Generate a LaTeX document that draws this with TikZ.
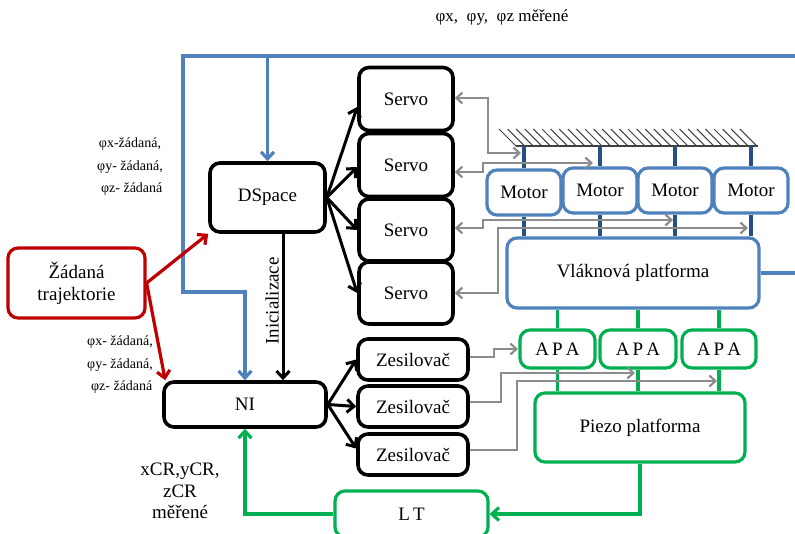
\documentclass[tikz,border=0pt]{standalone}
\usepackage{fontspec}
\setmainfont{Liberation Serif}
\usetikzlibrary{arrows.meta}
\definecolor{ublue}{HTML}{4F81BD}
\definecolor{dblue}{HTML}{254F85}
\definecolor{ured}{HTML}{C00000}
\definecolor{ugreen}{HTML}{00B050}
\definecolor{ugray}{HTML}{8C8C8C}
\begin{document}
\begin{tikzpicture}[x=1pt,y=-1pt,
  box/.style={draw=black, line width=3.6pt, rounded corners=10pt, fill=white, inner sep=0pt,
    font=\fontsize{19}{22}\selectfont, align=center},
  bbox/.style={box, draw=ublue, line width=3.2pt},
  gbox/.style={box, draw=ugreen, line width=3.2pt},
  rbox/.style={box, draw=ured, line width=3.2pt},
  tipb/.style={-{Straight Barb[length=7pt,width=13pt]}},
  blk/.style={tipb, draw=black, line width=3pt},
  blu/.style={tipb, draw=ublue, line width=3.2pt},
  red/.style={tipb, draw=ured, line width=3.2pt},
  grn/.style={draw=ugreen, line width=3.2pt},
  grna/.style={tipb, grn},
  gry/.style={draw=ugray, line width=2.2pt},
  gryone/.style={gry, -{Straight Barb[length=6pt,width=11pt]}},
  grytwo/.style={gry, {Straight Barb[length=6pt,width=11pt]}-{Straight Barb[length=6pt,width=11pt]}},
  mot/.style={draw=dblue, line width=3.2pt},
  hatch/.style={draw=black!75, line width=1pt},
  lbl/.style={inner sep=0pt, align=center},
]
\useasboundingbox (0,0) rectangle (795,533);

% ---- nodes ----
\node[rbox, minimum width=137pt, minimum height=70pt] (zad) at (76.5,283) {Žádaná\\trajektorie};
\node[box, minimum width=115pt, minimum height=69pt] (dsp) at (267.5,197.5) {DSpace};
\node[box, minimum width=162pt, minimum height=45pt] (ni) at (245,404.5) {NI};

\node[box, minimum width=94pt, minimum height=63pt] (s1) at (406,99) {Servo};
\node[box, minimum width=94pt, minimum height=63pt] (s2) at (406,165) {Servo};
\node[box, minimum width=94pt, minimum height=62pt] (s3) at (406,230) {Servo};
\node[box, minimum width=94pt, minimum height=62pt] (s4) at (406,293) {Servo};

\node[box, minimum width=110pt, minimum height=41pt] (z1) at (413,359.5) {Zesilovač};
\node[box, minimum width=110pt, minimum height=41pt] (z2) at (413,406.5) {Zesilovač};
\node[box, minimum width=110pt, minimum height=41pt] (z3) at (413,454.5) {Zesilovač};

\node[bbox, minimum width=74pt, minimum height=45pt] (m1) at (524,192.5) {Motor};
\node[bbox, minimum width=74pt, minimum height=45pt] (m2) at (600,190.5) {Motor};
\node[bbox, minimum width=74pt, minimum height=45pt] (m3) at (675,190.5) {Motor};
\node[bbox, minimum width=74pt, minimum height=45pt] (m4) at (751,190.5) {Motor};

\node[bbox, minimum width=252pt, minimum height=70pt] (vl) at (633,273) {Vláknová platforma};

\node[gbox, minimum width=75pt, minimum height=38pt] (a1) at (557.5,349) {A\,P\,A};
\node[gbox, minimum width=76pt, minimum height=38pt] (a2) at (638,349) {A\,P\,A};
\node[gbox, minimum width=74pt, minimum height=38pt] (a3) at (719,349) {A\,P\,A};

\node[gbox, minimum width=210pt, minimum height=69pt] (pz) at (640,427.5) {Piezo platforma};
\node[gbox, minimum width=153pt, minimum height=46pt] (lt) at (411.5,514) {L\,T};

% ---- labels ----
\node[lbl, font=\fontsize{17}{20}\selectfont] (ltop) at (502,17) {φx,\ \ φy,\ \ φz měřené};
\node[lbl, font=\fontsize{14}{22.5}\selectfont] (lza) at (130,167) {φx-žádaná,\\φy- žádaná,\\\ φz- žádaná};
\node[lbl, font=\fontsize{14}{22.5}\selectfont] (lzb) at (120,365) {φx- žádaná,\\φy- žádaná,\\\ φz- žádaná};
\node[lbl, font=\fontsize{19}{21.5}\selectfont] (lcr) at (180,491) {xCR,yCR,\\zCR\\měřené};
\node[lbl, font=\fontsize{19}{22}\selectfont, rotate=90] (lini) at (272,301) {Inicializace};

% ---- ground with hatching ----
\coordinate (gl) at (516,146);
\coordinate (gr) at (758,146);
\foreach \i in {0,...,28} {
  \draw[hatch] ({516+\i*8.6-17},129) -- ({516+\i*8.6},146);
}
\draw[draw=black!75, line width=1.5pt] (gl) -- (gr);

% ---- motor links ----
\foreach \m in {m1,m2,m3,m4} {
  \draw[mot] (\m.north) -- (\m.north |- gl);
  \draw[mot] (\m.south) -- (\m.south |- vl.north);
}

% ---- APA links ----
\foreach \a in {a1,a2,a3} {
  \draw[grn] (\a.north) -- (\a.north |- vl.south);
  \draw[grn] (\a.south) -- (\a.south |- pz.north);
}

% ---- blue feedback ----
\draw[blu] (vl.east) -- (800,273) -- (800,56) -- (183,56) -- (183,292) -| (ni.north);
\coordinate (tapd) at (dsp.north |- 0,56);
\draw[blu] (tapd) -- (dsp.north);

% ---- red ----
\draw[red] (zad.east) -- (dsp.south west);
\draw[red] (zad.east) -- ([xshift=3pt]ni.north west);

% ---- black ----
\draw[blk] (dsp.east) -- ([yshift=-8pt]s1.west);
\draw[blk] (dsp.east) -- ([yshift=-2pt]s2.west);
\draw[blk] (dsp.east) -- (s3.west);
\draw[blk] (dsp.east) -- (s4.west);
\draw[blk] (ni.east) -- (z1.west);
\draw[blk] (ni.east) -- (z2.west);
\draw[blk] (ni.east) -- ([yshift=6pt]z3.west);
\coordinate (ix) at (283,0);
\draw[blk] (dsp.south -| ix) -- (ni.north -| ix);

% ---- green ----
\draw[grna] (pz.south) |- (lt.east);
\draw[grna] (lt.west) -| (ni.south);

% ---- gray signals ----
\coordinate (e1) at (521,153);
\coordinate (e2) at (593,163);
\coordinate (e3) at (673,220);
\coordinate (e4) at (748,228);
\draw[grytwo] ([yshift=1pt]s1.east) -| (488,153) -- (e1);
\draw[grytwo] ([yshift=-7pt]s2.east) -- (483,172) -- (483,163) -- (e2);
\draw[grytwo] ([yshift=2pt]s3.east) -- (483,228) -- (483,220) -- (e3);
\draw[grytwo] (s4.east) -- (498,293) -- (498,228) -- (e4);
\coordinate (f1) at (518,349);
\coordinate (f2) at (635,373);
\coordinate (f3) at (717,381);
\draw[gryone] ([yshift=2.5pt]z1.east) -- (494,357) -- (494,349) -- (f1);
\draw[gryone] ([yshift=4.5pt]z2.east) -- (501,402) -- (501,373) -- (f2);
\draw[gryone] ([yshift=4.5pt]z3.east) -- (517,450) -- (517,381) -- (f3);
\end{tikzpicture}
\end{document}
